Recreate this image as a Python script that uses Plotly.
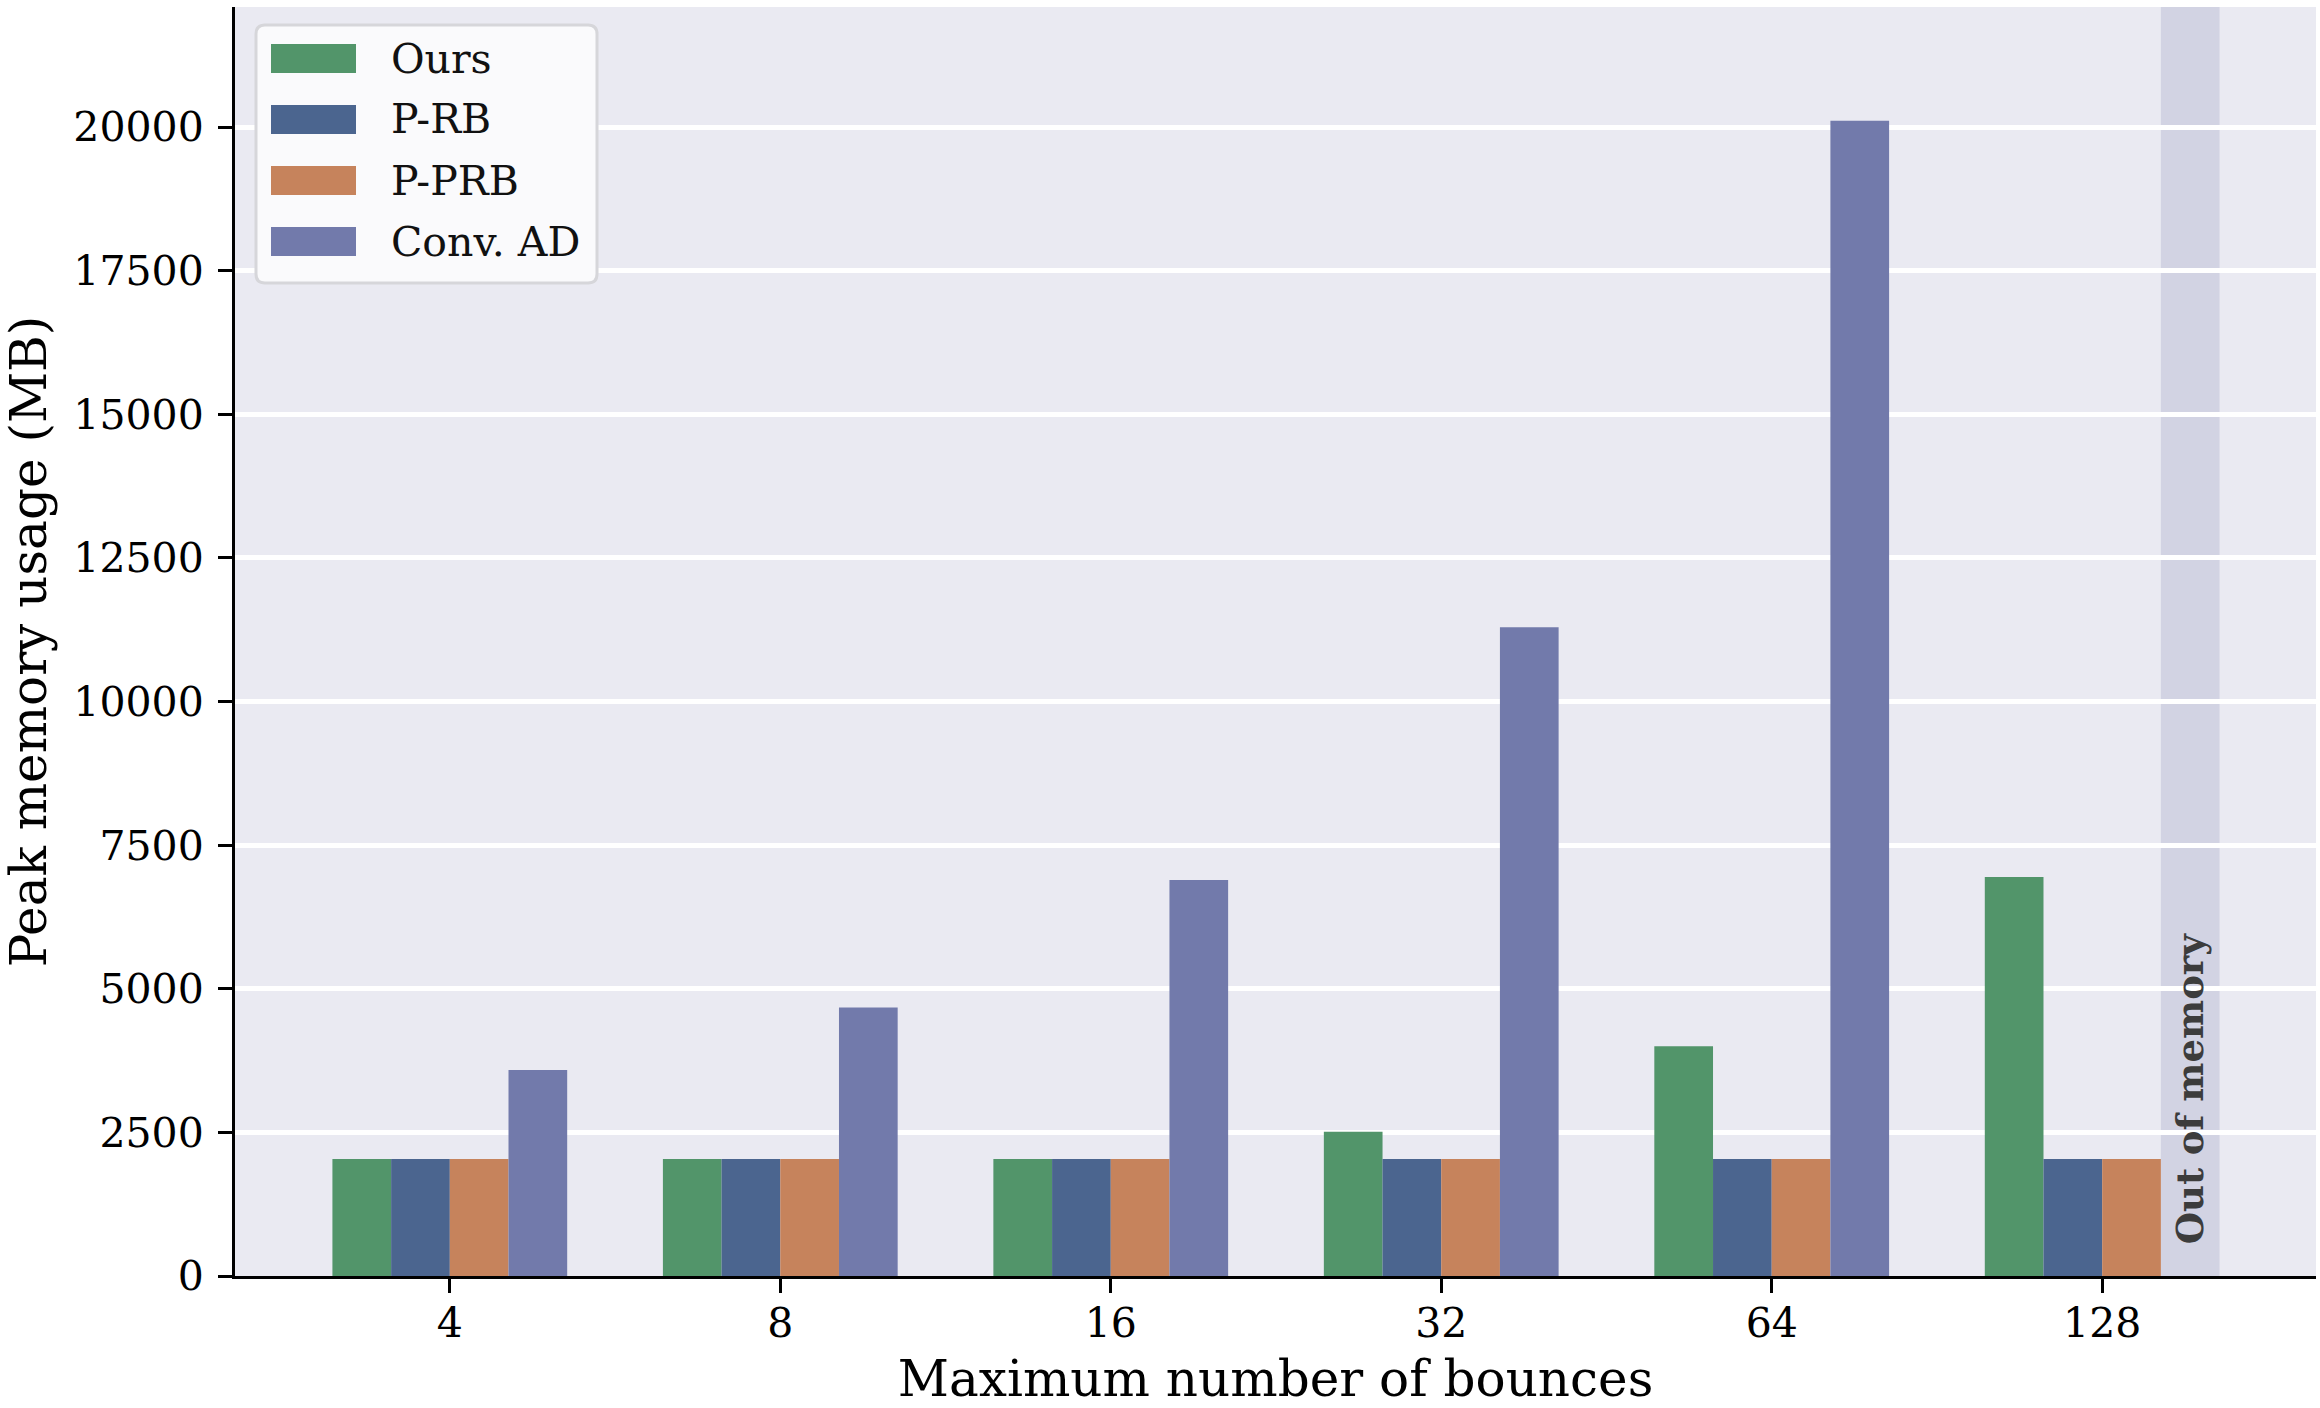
import plotly.graph_objects as go

# ---------------- data ----------------
bounces = ["4", "8", "16", "32", "64", "128"]
series_names = ["Ours", "P-RB", "P-PRB", "Conv. AD"]
ours = [2035, 2035, 2035, 2510, 4000, 6945]
p_rb = [2035, 2035, 2035, 2035, 2035, 2035]
p_prb = [2035, 2035, 2035, 2035, 2035, 2035]
conv_ad = [3585, 4675, 6895, 11295, 20110, None]
colors = ["#52956A", "#4B658F", "#C6835C", "#727AAB"]
y_ticks = [0, 2500, 5000, 7500, 10000, 12500, 15000, 17500, 20000]
oom_label = "Out of memory"

# ---------------- layout geometry ----------------
W, H = 2320, 1408
L, R, T, B = 235, 2316, 7, 1276  # plot area in pixels
FONT = "DejaVu Serif"
BAR_W = 0.1776

def px_x(p):
    return (p - L) / (R - L)

def px_y(p):
    return (B - p) / (B - T)

fig = go.Figure()
xs = list(range(len(bounces)))
for name, vals, col in zip(series_names, [ours, p_rb, p_prb, conv_ad], colors):
    fig.add_trace(go.Bar(
        x=xs, y=vals, name=name, marker_color=col,
        marker_line_width=0, showlegend=False,
    ))

# Out-of-memory band in the Conv. AD slot of the last group
last = len(bounces) - 1
fig.add_shape(type="rect", xref="x", yref="paper",
              x0=last + BAR_W, x1=last + 2 * BAR_W, y0=0, y1=1,
              fillcolor="rgba(114,122,171,0.2)", line_width=0, layer="between")
fig.add_annotation(x=last + 1.5 * BAR_W, y=522, xref="x", yref="y",
                   text="<b>" + oom_label + "</b>", textangle=-90, showarrow=False,
                   xanchor="center", yanchor="bottom",
                   font=dict(family=FONT, size=37, color="#3C3C3C"))

# ---------------- custom legend ----------------
lx0, lx1, ly0, ly1, rad = 256, 597, 25, 283, 9
def rounded(x0, y0, x1, y1, r):
    X = px_x; Y = px_y
    return (f"M{X(x0+r)},{Y(y0)} L{X(x1-r)},{Y(y0)} Q{X(x1)},{Y(y0)} {X(x1)},{Y(y0+r)} "
            f"L{X(x1)},{Y(y1-r)} Q{X(x1)},{Y(y1)} {X(x1-r)},{Y(y1)} "
            f"L{X(x0+r)},{Y(y1)} Q{X(x0)},{Y(y1)} {X(x0)},{Y(y1-r)} "
            f"L{X(x0)},{Y(y0+r)} Q{X(x0)},{Y(y0)} {X(x0+r)},{Y(y0)} Z")
fig.add_shape(type="path", xref="paper", yref="paper", path=rounded(lx0, ly0, lx1, ly1, rad),
              fillcolor="#FAFAFC", line=dict(color="#D6D6DA", width=3), layer="above")
for i, (name, col) in enumerate(zip(series_names, colors)):
    cy = 58.5 + 61 * i
    fig.add_shape(type="rect", xref="paper", yref="paper",
                  x0=px_x(271), x1=px_x(356), y0=px_y(cy + 14.5), y1=px_y(cy - 14.5),
                  fillcolor=col, line_width=0, layer="above")
    fig.add_annotation(xref="paper", yref="paper", x=px_x(389), y=px_y(cy),
                       text=name, showarrow=False, xanchor="left", yanchor="middle",
                       font=dict(family=FONT, size=41, color="#111111"))

fig.update_layout(
    width=W, height=H,
    margin=dict(l=L, r=W - R, t=T, b=H - B, autoexpand=False),
    paper_bgcolor="white", plot_bgcolor="#EAEAF2",
    barmode="group", bargap=1 - 4 * BAR_W, bargroupgap=0,
    font=dict(family=FONT, size=41, color="black"),
    showlegend=False,
    xaxis=dict(
        tickmode="array", tickvals=xs, ticktext=bounces,
        range=[-0.65, 5.647], showgrid=False, zeroline=False,
        showline=True, linecolor="black", linewidth=3,
        ticks="outside", ticklen=14, tickwidth=3, tickcolor="black",
        tickfont=dict(family=FONT, size=41, color="black"),
        ticklabelstandoff=-5,
        title=dict(text="Maximum number of bounces", standoff=34,
                   font=dict(family=FONT, size=50, color="black")),
    ),
    yaxis=dict(
        tickmode="array", tickvals=y_ticks, ticktext=[str(v) for v in y_ticks],
        range=[0, 22090], showgrid=True, gridcolor="white", gridwidth=5,
        zeroline=False, showline=True, linecolor="black", linewidth=3,
        ticks="outside", ticklen=14, tickwidth=3, tickcolor="black",
        tickfont=dict(family=FONT, size=41, color="black"),
        ticklabelstandoff=6,
        title=dict(text="Peak memory usage (MB)", standoff=22,
                   font=dict(family=FONT, size=50, color="black")),
    ),
)

fig.write_html("out.html")
